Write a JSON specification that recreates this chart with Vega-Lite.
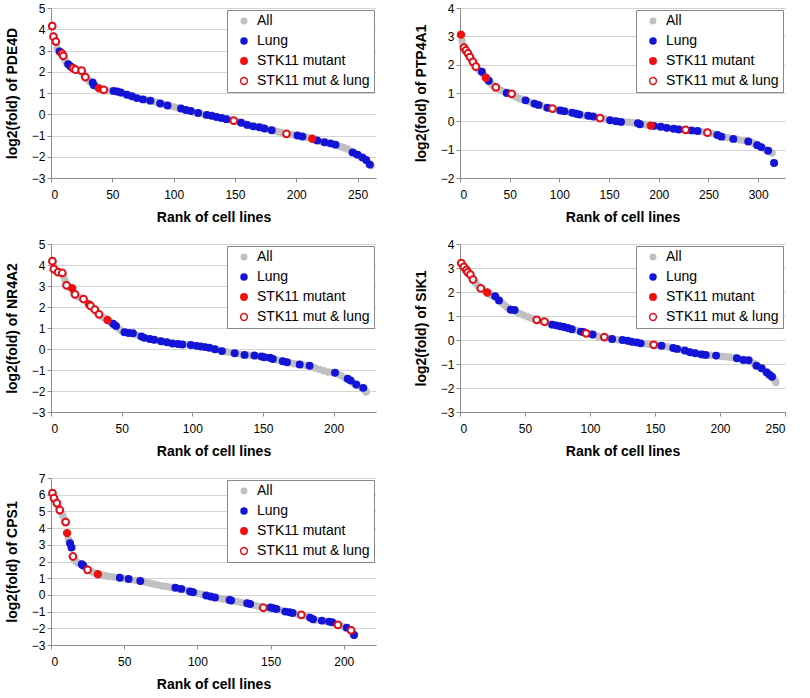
{
"$schema":"https://vega.github.io/schema/vega-lite/v6.json",
"padding":{"left":5,"top":2,"right":5,"bottom":5},
"background":"#ffffff",
"columns":2,
"bounds":"flush",
"align":"each",
"spacing":{"row":66,"column":84},
"resolve":{"scale":{"x":"independent","y":"independent","fill":"independent","stroke":"independent","size":"independent"},"legend":{"fill":"independent","stroke":"independent","size":"independent"}},
"datasets":{
"PDE4D":[
{"set":"All","rank":1,"fold":4.2},{"set":"All","rank":2,"fold":3.7},{"set":"All","rank":3,"fold":3.5},{"set":"All","rank":4,"fold":3.4},{"set":"All","rank":5,"fold":3.1},{"set":"All","rank":6,"fold":3.0},{"set":"All","rank":7,"fold":2.93},{"set":"All","rank":8,"fold":2.88},{"set":"All","rank":9,"fold":2.83},{"set":"All","rank":10,"fold":2.75},{"set":"All","rank":11,"fold":2.6},{"set":"All","rank":12,"fold":2.5},{"set":"All","rank":13,"fold":2.4},{"set":"All","rank":14,"fold":2.33},{"set":"All","rank":15,"fold":2.27},{"set":"All","rank":16,"fold":2.23},{"set":"All","rank":18,"fold":2.18},{"set":"All","rank":20,"fold":2.1},{"set":"All","rank":22,"fold":2.06},{"set":"All","rank":24,"fold":2.02},{"set":"All","rank":26,"fold":1.92},{"set":"All","rank":28,"fold":1.76},{"set":"All","rank":30,"fold":1.63},{"set":"All","rank":32,"fold":1.52},{"set":"All","rank":34,"fold":1.44},{"set":"All","rank":36,"fold":1.35},{"set":"All","rank":38,"fold":1.27},{"set":"All","rank":40,"fold":1.2},{"set":"All","rank":42,"fold":1.16},{"set":"All","rank":44,"fold":1.13},{"set":"All","rank":47,"fold":1.1},{"set":"All","rank":50,"fold":1.08},{"set":"All","rank":53,"fold":1.06},{"set":"All","rank":56,"fold":1.02},{"set":"All","rank":59,"fold":0.97},{"set":"All","rank":62,"fold":0.92},{"set":"All","rank":65,"fold":0.87},{"set":"All","rank":68,"fold":0.8},{"set":"All","rank":71,"fold":0.75},{"set":"All","rank":74,"fold":0.71},{"set":"All","rank":77,"fold":0.68},{"set":"All","rank":80,"fold":0.65},{"set":"All","rank":83,"fold":0.61},{"set":"All","rank":86,"fold":0.56},{"set":"All","rank":89,"fold":0.51},{"set":"All","rank":92,"fold":0.47},{"set":"All","rank":95,"fold":0.42},{"set":"All","rank":98,"fold":0.38},{"set":"All","rank":101,"fold":0.34},{"set":"All","rank":104,"fold":0.29},{"set":"All","rank":107,"fold":0.25},{"set":"All","rank":110,"fold":0.2},{"set":"All","rank":113,"fold":0.16},{"set":"All","rank":116,"fold":0.11},{"set":"All","rank":119,"fold":0.06},{"set":"All","rank":122,"fold":0.03},{"set":"All","rank":125,"fold":-0.02},{"set":"All","rank":128,"fold":-0.05},{"set":"All","rank":131,"fold":-0.08},{"set":"All","rank":134,"fold":-0.11},{"set":"All","rank":137,"fold":-0.15},{"set":"All","rank":140,"fold":-0.18},{"set":"All","rank":143,"fold":-0.21},{"set":"All","rank":146,"fold":-0.25},{"set":"All","rank":149,"fold":-0.3},{"set":"All","rank":152,"fold":-0.34},{"set":"All","rank":155,"fold":-0.38},{"set":"All","rank":158,"fold":-0.43},{"set":"All","rank":161,"fold":-0.5},{"set":"All","rank":164,"fold":-0.56},{"set":"All","rank":167,"fold":-0.59},{"set":"All","rank":170,"fold":-0.61},{"set":"All","rank":173,"fold":-0.65},{"set":"All","rank":176,"fold":-0.7},{"set":"All","rank":179,"fold":-0.74},{"set":"All","rank":182,"fold":-0.78},{"set":"All","rank":185,"fold":-0.82},{"set":"All","rank":188,"fold":-0.87},{"set":"All","rank":191,"fold":-0.92},{"set":"All","rank":194,"fold":-0.95},{"set":"All","rank":197,"fold":-0.97},{"set":"All","rank":200,"fold":-0.99},{"set":"All","rank":203,"fold":-1.03},{"set":"All","rank":206,"fold":-1.06},{"set":"All","rank":209,"fold":-1.09},{"set":"All","rank":212,"fold":-1.12},{"set":"All","rank":215,"fold":-1.2},{"set":"All","rank":218,"fold":-1.26},{"set":"All","rank":221,"fold":-1.3},{"set":"All","rank":224,"fold":-1.34},{"set":"All","rank":227,"fold":-1.38},{"set":"All","rank":230,"fold":-1.42},{"set":"All","rank":233,"fold":-1.47},{"set":"All","rank":236,"fold":-1.52},{"set":"All","rank":239,"fold":-1.58},{"set":"All","rank":242,"fold":-1.65},{"set":"All","rank":245,"fold":-1.76},{"set":"All","rank":248,"fold":-1.85},{"set":"All","rank":251,"fold":-1.95},{"set":"All","rank":254,"fold":-2.05},{"set":"All","rank":257,"fold":-2.18},{"set":"All","rank":259,"fold":-2.3},{"set":"All","rank":261,"fold":-2.42},
{"set":"Lung","rank":7,"fold":2.96},{"set":"Lung","rank":14,"fold":2.36},{"set":"Lung","rank":16,"fold":2.25},{"set":"Lung","rank":34,"fold":1.5},{"set":"Lung","rank":35,"fold":1.36},{"set":"Lung","rank":51,"fold":1.1},{"set":"Lung","rank":54,"fold":1.07},{"set":"Lung","rank":57,"fold":1.02},{"set":"Lung","rank":62,"fold":0.92},{"set":"Lung","rank":66,"fold":0.85},{"set":"Lung","rank":70,"fold":0.76},{"set":"Lung","rank":75,"fold":0.7},{"set":"Lung","rank":81,"fold":0.64},{"set":"Lung","rank":89,"fold":0.51},{"set":"Lung","rank":95,"fold":0.41},{"set":"Lung","rank":106,"fold":0.27},{"set":"Lung","rank":110,"fold":0.2},{"set":"Lung","rank":114,"fold":0.15},{"set":"Lung","rank":120,"fold":0.06},{"set":"Lung","rank":127,"fold":-0.03},{"set":"Lung","rank":131,"fold":-0.07},{"set":"Lung","rank":135,"fold":-0.13},{"set":"Lung","rank":139,"fold":-0.18},{"set":"Lung","rank":143,"fold":-0.23},{"set":"Lung","rank":155,"fold":-0.4},{"set":"Lung","rank":160,"fold":-0.5},{"set":"Lung","rank":165,"fold":-0.57},{"set":"Lung","rank":170,"fold":-0.61},{"set":"Lung","rank":174,"fold":-0.67},{"set":"Lung","rank":180,"fold":-0.75},{"set":"Lung","rank":201,"fold":-1.0},{"set":"Lung","rank":205,"fold":-1.05},{"set":"Lung","rank":217,"fold":-1.23},{"set":"Lung","rank":223,"fold":-1.32},{"set":"Lung","rank":228,"fold":-1.37},{"set":"Lung","rank":232,"fold":-1.43},{"set":"Lung","rank":246,"fold":-1.8},{"set":"Lung","rank":250,"fold":-1.9},{"set":"Lung","rank":254,"fold":-2.03},{"set":"Lung","rank":257,"fold":-2.15},{"set":"Lung","rank":260,"fold":-2.37},
{"set":"STK11 mutant","rank":39,"fold":1.22},{"set":"STK11 mutant","rank":213,"fold":-1.15},
{"set":"STK11 mut & lung","rank":1,"fold":4.15},{"set":"STK11 mut & lung","rank":2,"fold":3.65},{"set":"STK11 mut & lung","rank":4,"fold":3.42},{"set":"STK11 mut & lung","rank":9,"fold":2.85},{"set":"STK11 mut & lung","rank":10,"fold":2.75},{"set":"STK11 mut & lung","rank":18,"fold":2.17},{"set":"STK11 mut & lung","rank":20,"fold":2.1},{"set":"STK11 mut & lung","rank":25,"fold":2.05},{"set":"STK11 mut & lung","rank":28,"fold":1.75},{"set":"STK11 mut & lung","rank":43,"fold":1.15},{"set":"STK11 mut & lung","rank":149,"fold":-0.3},{"set":"STK11 mut & lung","rank":192,"fold":-0.92}
],
"PTP4A1":[
{"set":"All","rank":1,"fold":3.06},{"set":"All","rank":2,"fold":2.85},{"set":"All","rank":3,"fold":2.7},{"set":"All","rank":4,"fold":2.6},{"set":"All","rank":5,"fold":2.55},{"set":"All","rank":6,"fold":2.5},{"set":"All","rank":7,"fold":2.45},{"set":"All","rank":8,"fold":2.4},{"set":"All","rank":9,"fold":2.33},{"set":"All","rank":10,"fold":2.28},{"set":"All","rank":11,"fold":2.24},{"set":"All","rank":12,"fold":2.15},{"set":"All","rank":13,"fold":2.1},{"set":"All","rank":14,"fold":2.05},{"set":"All","rank":15,"fold":1.98},{"set":"All","rank":16,"fold":1.93},{"set":"All","rank":18,"fold":1.85},{"set":"All","rank":20,"fold":1.79},{"set":"All","rank":22,"fold":1.74},{"set":"All","rank":24,"fold":1.64},{"set":"All","rank":26,"fold":1.55},{"set":"All","rank":28,"fold":1.43},{"set":"All","rank":30,"fold":1.37},{"set":"All","rank":33,"fold":1.28},{"set":"All","rank":36,"fold":1.2},{"set":"All","rank":39,"fold":1.14},{"set":"All","rank":42,"fold":1.08},{"set":"All","rank":45,"fold":1.04},{"set":"All","rank":48,"fold":1.0},{"set":"All","rank":51,"fold":0.97},{"set":"All","rank":54,"fold":0.9},{"set":"All","rank":57,"fold":0.85},{"set":"All","rank":60,"fold":0.8},{"set":"All","rank":63,"fold":0.77},{"set":"All","rank":66,"fold":0.74},{"set":"All","rank":70,"fold":0.68},{"set":"All","rank":74,"fold":0.64},{"set":"All","rank":78,"fold":0.59},{"set":"All","rank":82,"fold":0.55},{"set":"All","rank":86,"fold":0.49},{"set":"All","rank":90,"fold":0.46},{"set":"All","rank":94,"fold":0.44},{"set":"All","rank":98,"fold":0.41},{"set":"All","rank":102,"fold":0.37},{"set":"All","rank":106,"fold":0.35},{"set":"All","rank":110,"fold":0.32},{"set":"All","rank":114,"fold":0.29},{"set":"All","rank":118,"fold":0.26},{"set":"All","rank":122,"fold":0.23},{"set":"All","rank":126,"fold":0.21},{"set":"All","rank":130,"fold":0.19},{"set":"All","rank":134,"fold":0.17},{"set":"All","rank":138,"fold":0.13},{"set":"All","rank":142,"fold":0.11},{"set":"All","rank":146,"fold":0.08},{"set":"All","rank":150,"fold":0.06},{"set":"All","rank":154,"fold":0.03},{"set":"All","rank":158,"fold":0.0},{"set":"All","rank":162,"fold":-0.01},{"set":"All","rank":166,"fold":-0.02},{"set":"All","rank":170,"fold":-0.03},{"set":"All","rank":174,"fold":-0.05},{"set":"All","rank":178,"fold":-0.06},{"set":"All","rank":182,"fold":-0.09},{"set":"All","rank":186,"fold":-0.12},{"set":"All","rank":190,"fold":-0.15},{"set":"All","rank":194,"fold":-0.17},{"set":"All","rank":198,"fold":-0.18},{"set":"All","rank":202,"fold":-0.19},{"set":"All","rank":206,"fold":-0.21},{"set":"All","rank":210,"fold":-0.24},{"set":"All","rank":214,"fold":-0.26},{"set":"All","rank":218,"fold":-0.27},{"set":"All","rank":222,"fold":-0.28},{"set":"All","rank":226,"fold":-0.3},{"set":"All","rank":230,"fold":-0.31},{"set":"All","rank":234,"fold":-0.32},{"set":"All","rank":238,"fold":-0.34},{"set":"All","rank":242,"fold":-0.36},{"set":"All","rank":246,"fold":-0.38},{"set":"All","rank":250,"fold":-0.4},{"set":"All","rank":254,"fold":-0.43},{"set":"All","rank":258,"fold":-0.47},{"set":"All","rank":262,"fold":-0.52},{"set":"All","rank":266,"fold":-0.56},{"set":"All","rank":270,"fold":-0.58},{"set":"All","rank":274,"fold":-0.61},{"set":"All","rank":278,"fold":-0.63},{"set":"All","rank":282,"fold":-0.66},{"set":"All","rank":286,"fold":-0.68},{"set":"All","rank":290,"fold":-0.7},{"set":"All","rank":293,"fold":-0.73},{"set":"All","rank":296,"fold":-0.77},{"set":"All","rank":299,"fold":-0.82},{"set":"All","rank":302,"fold":-0.88},{"set":"All","rank":305,"fold":-0.94},{"set":"All","rank":308,"fold":-1.0},{"set":"All","rank":311,"fold":-1.05},{"set":"All","rank":314,"fold":-1.12},{"set":"All","rank":316,"fold":-1.47},
{"set":"Lung","rank":22,"fold":1.75},{"set":"Lung","rank":29,"fold":1.43},{"set":"Lung","rank":47,"fold":1.0},{"set":"Lung","rank":66,"fold":0.74},{"set":"Lung","rank":75,"fold":0.62},{"set":"Lung","rank":79,"fold":0.58},{"set":"Lung","rank":88,"fold":0.48},{"set":"Lung","rank":101,"fold":0.38},{"set":"Lung","rank":105,"fold":0.36},{"set":"Lung","rank":113,"fold":0.3},{"set":"Lung","rank":117,"fold":0.27},{"set":"Lung","rank":120,"fold":0.24},{"set":"Lung","rank":129,"fold":0.2},{"set":"Lung","rank":134,"fold":0.17},{"set":"Lung","rank":151,"fold":0.04},{"set":"Lung","rank":157,"fold":0.0},{"set":"Lung","rank":162,"fold":-0.02},{"set":"Lung","rank":179,"fold":-0.07},{"set":"Lung","rank":181,"fold":-0.1},{"set":"Lung","rank":195,"fold":-0.16},{"set":"Lung","rank":202,"fold":-0.19},{"set":"Lung","rank":208,"fold":-0.23},{"set":"Lung","rank":215,"fold":-0.26},{"set":"Lung","rank":220,"fold":-0.29},{"set":"Lung","rank":233,"fold":-0.32},{"set":"Lung","rank":239,"fold":-0.34},{"set":"Lung","rank":259,"fold":-0.48},{"set":"Lung","rank":263,"fold":-0.54},{"set":"Lung","rank":275,"fold":-0.62},{"set":"Lung","rank":290,"fold":-0.71},{"set":"Lung","rank":299,"fold":-0.84},{"set":"Lung","rank":303,"fold":-0.91},{"set":"Lung","rank":310,"fold":-1.04},{"set":"Lung","rank":316,"fold":-1.47},
{"set":"STK11 mutant","rank":1,"fold":3.06},{"set":"STK11 mutant","rank":26,"fold":1.54},{"set":"STK11 mutant","rank":192,"fold":-0.15},
{"set":"STK11 mut & lung","rank":4,"fold":2.6},{"set":"STK11 mut & lung","rank":6,"fold":2.5},{"set":"STK11 mut & lung","rank":8,"fold":2.4},{"set":"STK11 mut & lung","rank":10,"fold":2.27},{"set":"STK11 mut & lung","rank":13,"fold":2.1},{"set":"STK11 mut & lung","rank":16,"fold":1.93},{"set":"STK11 mut & lung","rank":36,"fold":1.2},{"set":"STK11 mut & lung","rank":52,"fold":0.97},{"set":"STK11 mut & lung","rank":93,"fold":0.45},{"set":"STK11 mut & lung","rank":141,"fold":0.11},{"set":"STK11 mut & lung","rank":227,"fold":-0.3},{"set":"STK11 mut & lung","rank":249,"fold":-0.4}
],
"NR4A2":[
{"set":"All","rank":1,"fold":4.18},{"set":"All","rank":2,"fold":3.95},{"set":"All","rank":3,"fold":3.78},{"set":"All","rank":4,"fold":3.7},{"set":"All","rank":5,"fold":3.66},{"set":"All","rank":6,"fold":3.64},{"set":"All","rank":7,"fold":3.62},{"set":"All","rank":8,"fold":3.6},{"set":"All","rank":9,"fold":3.45},{"set":"All","rank":10,"fold":3.25},{"set":"All","rank":11,"fold":3.05},{"set":"All","rank":12,"fold":2.98},{"set":"All","rank":13,"fold":2.94},{"set":"All","rank":14,"fold":2.9},{"set":"All","rank":15,"fold":2.85},{"set":"All","rank":16,"fold":2.7},{"set":"All","rank":17,"fold":2.6},{"set":"All","rank":18,"fold":2.54},{"set":"All","rank":20,"fold":2.46},{"set":"All","rank":22,"fold":2.4},{"set":"All","rank":24,"fold":2.32},{"set":"All","rank":26,"fold":2.18},{"set":"All","rank":28,"fold":2.05},{"set":"All","rank":30,"fold":1.92},{"set":"All","rank":32,"fold":1.78},{"set":"All","rank":34,"fold":1.65},{"set":"All","rank":36,"fold":1.55},{"set":"All","rank":38,"fold":1.47},{"set":"All","rank":40,"fold":1.38},{"set":"All","rank":42,"fold":1.27},{"set":"All","rank":44,"fold":1.18},{"set":"All","rank":46,"fold":1.08},{"set":"All","rank":48,"fold":0.96},{"set":"All","rank":50,"fold":0.87},{"set":"All","rank":52,"fold":0.8},{"set":"All","rank":55,"fold":0.76},{"set":"All","rank":58,"fold":0.73},{"set":"All","rank":61,"fold":0.66},{"set":"All","rank":64,"fold":0.59},{"set":"All","rank":67,"fold":0.52},{"set":"All","rank":70,"fold":0.47},{"set":"All","rank":73,"fold":0.44},{"set":"All","rank":76,"fold":0.4},{"set":"All","rank":79,"fold":0.36},{"set":"All","rank":82,"fold":0.32},{"set":"All","rank":85,"fold":0.27},{"set":"All","rank":88,"fold":0.25},{"set":"All","rank":91,"fold":0.23},{"set":"All","rank":94,"fold":0.21},{"set":"All","rank":97,"fold":0.2},{"set":"All","rank":100,"fold":0.18},{"set":"All","rank":103,"fold":0.15},{"set":"All","rank":106,"fold":0.12},{"set":"All","rank":109,"fold":0.09},{"set":"All","rank":112,"fold":0.06},{"set":"All","rank":115,"fold":0.01},{"set":"All","rank":118,"fold":-0.04},{"set":"All","rank":121,"fold":-0.09},{"set":"All","rank":124,"fold":-0.13},{"set":"All","rank":127,"fold":-0.17},{"set":"All","rank":130,"fold":-0.2},{"set":"All","rank":133,"fold":-0.24},{"set":"All","rank":136,"fold":-0.27},{"set":"All","rank":139,"fold":-0.29},{"set":"All","rank":142,"fold":-0.31},{"set":"All","rank":145,"fold":-0.33},{"set":"All","rank":148,"fold":-0.36},{"set":"All","rank":151,"fold":-0.39},{"set":"All","rank":154,"fold":-0.42},{"set":"All","rank":157,"fold":-0.48},{"set":"All","rank":160,"fold":-0.52},{"set":"All","rank":163,"fold":-0.56},{"set":"All","rank":166,"fold":-0.61},{"set":"All","rank":169,"fold":-0.66},{"set":"All","rank":172,"fold":-0.7},{"set":"All","rank":175,"fold":-0.73},{"set":"All","rank":178,"fold":-0.76},{"set":"All","rank":181,"fold":-0.78},{"set":"All","rank":184,"fold":-0.82},{"set":"All","rank":187,"fold":-0.9},{"set":"All","rank":190,"fold":-0.97},{"set":"All","rank":193,"fold":-1.04},{"set":"All","rank":196,"fold":-1.09},{"set":"All","rank":199,"fold":-1.12},{"set":"All","rank":202,"fold":-1.16},{"set":"All","rank":205,"fold":-1.26},{"set":"All","rank":208,"fold":-1.38},{"set":"All","rank":211,"fold":-1.47},{"set":"All","rank":214,"fold":-1.62},{"set":"All","rank":217,"fold":-1.75},{"set":"All","rank":220,"fold":-1.86},{"set":"All","rank":222,"fold":-1.95},{"set":"All","rank":223,"fold":-2.05},
{"set":"Lung","rank":44,"fold":1.2},{"set":"Lung","rank":46,"fold":1.1},{"set":"Lung","rank":52,"fold":0.8},{"set":"Lung","rank":55,"fold":0.76},{"set":"Lung","rank":58,"fold":0.75},{"set":"Lung","rank":64,"fold":0.6},{"set":"Lung","rank":66,"fold":0.53},{"set":"Lung","rank":70,"fold":0.48},{"set":"Lung","rank":73,"fold":0.44},{"set":"Lung","rank":78,"fold":0.37},{"set":"Lung","rank":82,"fold":0.32},{"set":"Lung","rank":86,"fold":0.26},{"set":"Lung","rank":90,"fold":0.24},{"set":"Lung","rank":93,"fold":0.21},{"set":"Lung","rank":99,"fold":0.19},{"set":"Lung","rank":103,"fold":0.15},{"set":"Lung","rank":106,"fold":0.12},{"set":"Lung","rank":109,"fold":0.09},{"set":"Lung","rank":112,"fold":0.06},{"set":"Lung","rank":116,"fold":-0.01},{"set":"Lung","rank":121,"fold":-0.1},{"set":"Lung","rank":130,"fold":-0.2},{"set":"Lung","rank":137,"fold":-0.28},{"set":"Lung","rank":144,"fold":-0.31},{"set":"Lung","rank":149,"fold":-0.36},{"set":"Lung","rank":151,"fold":-0.39},{"set":"Lung","rank":155,"fold":-0.42},{"set":"Lung","rank":157,"fold":-0.48},{"set":"Lung","rank":164,"fold":-0.58},{"set":"Lung","rank":167,"fold":-0.63},{"set":"Lung","rank":176,"fold":-0.74},{"set":"Lung","rank":183,"fold":-0.8},{"set":"Lung","rank":201,"fold":-1.13},{"set":"Lung","rank":210,"fold":-1.42},{"set":"Lung","rank":212,"fold":-1.5},{"set":"Lung","rank":216,"fold":-1.69},{"set":"Lung","rank":221,"fold":-1.85},
{"set":"STK11 mutant","rank":15,"fold":2.9},{"set":"STK11 mutant","rank":27,"fold":2.12},{"set":"STK11 mutant","rank":40,"fold":1.38},
{"set":"STK11 mut & lung","rank":1,"fold":4.18},{"set":"STK11 mut & lung","rank":2,"fold":3.8},{"set":"STK11 mut & lung","rank":5,"fold":3.66},{"set":"STK11 mut & lung","rank":8,"fold":3.62},{"set":"STK11 mut & lung","rank":11,"fold":3.03},{"set":"STK11 mut & lung","rank":17,"fold":2.6},{"set":"STK11 mut & lung","rank":23,"fold":2.38},{"set":"STK11 mut & lung","rank":28,"fold":2.05},{"set":"STK11 mut & lung","rank":31,"fold":1.88},{"set":"STK11 mut & lung","rank":34,"fold":1.65}
],
"SIK1":[
{"set":"All","rank":1,"fold":3.2},{"set":"All","rank":2,"fold":3.1},{"set":"All","rank":3,"fold":3.0},{"set":"All","rank":4,"fold":2.9},{"set":"All","rank":6,"fold":2.8},{"set":"All","rank":8,"fold":2.68},{"set":"All","rank":10,"fold":2.5},{"set":"All","rank":12,"fold":2.38},{"set":"All","rank":14,"fold":2.25},{"set":"All","rank":16,"fold":2.15},{"set":"All","rank":18,"fold":2.08},{"set":"All","rank":20,"fold":2.0},{"set":"All","rank":22,"fold":1.93},{"set":"All","rank":24,"fold":1.88},{"set":"All","rank":26,"fold":1.83},{"set":"All","rank":28,"fold":1.76},{"set":"All","rank":30,"fold":1.65},{"set":"All","rank":32,"fold":1.55},{"set":"All","rank":34,"fold":1.47},{"set":"All","rank":36,"fold":1.38},{"set":"All","rank":38,"fold":1.3},{"set":"All","rank":40,"fold":1.25},{"set":"All","rank":43,"fold":1.18},{"set":"All","rank":46,"fold":1.1},{"set":"All","rank":49,"fold":1.03},{"set":"All","rank":52,"fold":0.97},{"set":"All","rank":55,"fold":0.91},{"set":"All","rank":58,"fold":0.86},{"set":"All","rank":61,"fold":0.81},{"set":"All","rank":64,"fold":0.77},{"set":"All","rank":67,"fold":0.72},{"set":"All","rank":70,"fold":0.66},{"set":"All","rank":73,"fold":0.62},{"set":"All","rank":76,"fold":0.58},{"set":"All","rank":79,"fold":0.55},{"set":"All","rank":82,"fold":0.5},{"set":"All","rank":85,"fold":0.46},{"set":"All","rank":88,"fold":0.42},{"set":"All","rank":91,"fold":0.38},{"set":"All","rank":94,"fold":0.34},{"set":"All","rank":97,"fold":0.29},{"set":"All","rank":100,"fold":0.25},{"set":"All","rank":103,"fold":0.21},{"set":"All","rank":106,"fold":0.16},{"set":"All","rank":109,"fold":0.12},{"set":"All","rank":112,"fold":0.09},{"set":"All","rank":115,"fold":0.06},{"set":"All","rank":118,"fold":0.03},{"set":"All","rank":121,"fold":0.01},{"set":"All","rank":124,"fold":0.0},{"set":"All","rank":127,"fold":-0.02},{"set":"All","rank":130,"fold":-0.05},{"set":"All","rank":133,"fold":-0.08},{"set":"All","rank":136,"fold":-0.1},{"set":"All","rank":139,"fold":-0.13},{"set":"All","rank":142,"fold":-0.16},{"set":"All","rank":145,"fold":-0.18},{"set":"All","rank":148,"fold":-0.2},{"set":"All","rank":151,"fold":-0.22},{"set":"All","rank":154,"fold":-0.24},{"set":"All","rank":157,"fold":-0.26},{"set":"All","rank":160,"fold":-0.29},{"set":"All","rank":163,"fold":-0.32},{"set":"All","rank":166,"fold":-0.36},{"set":"All","rank":169,"fold":-0.4},{"set":"All","rank":172,"fold":-0.43},{"set":"All","rank":175,"fold":-0.48},{"set":"All","rank":178,"fold":-0.52},{"set":"All","rank":181,"fold":-0.55},{"set":"All","rank":184,"fold":-0.58},{"set":"All","rank":187,"fold":-0.61},{"set":"All","rank":190,"fold":-0.63},{"set":"All","rank":193,"fold":-0.64},{"set":"All","rank":196,"fold":-0.65},{"set":"All","rank":199,"fold":-0.67},{"set":"All","rank":202,"fold":-0.69},{"set":"All","rank":205,"fold":-0.7},{"set":"All","rank":208,"fold":-0.72},{"set":"All","rank":211,"fold":-0.74},{"set":"All","rank":214,"fold":-0.77},{"set":"All","rank":217,"fold":-0.81},{"set":"All","rank":220,"fold":-0.83},{"set":"All","rank":223,"fold":-0.86},{"set":"All","rank":226,"fold":-0.97},{"set":"All","rank":229,"fold":-1.08},{"set":"All","rank":232,"fold":-1.18},{"set":"All","rank":235,"fold":-1.3},{"set":"All","rank":238,"fold":-1.44},{"set":"All","rank":240,"fold":-1.53},{"set":"All","rank":242,"fold":-1.65},{"set":"All","rank":243,"fold":-1.77},
{"set":"Lung","rank":27,"fold":1.82},{"set":"Lung","rank":30,"fold":1.65},{"set":"Lung","rank":39,"fold":1.26},{"set":"Lung","rank":42,"fold":1.25},{"set":"Lung","rank":71,"fold":0.64},{"set":"Lung","rank":74,"fold":0.61},{"set":"Lung","rank":77,"fold":0.57},{"set":"Lung","rank":80,"fold":0.54},{"set":"Lung","rank":83,"fold":0.5},{"set":"Lung","rank":86,"fold":0.45},{"set":"Lung","rank":93,"fold":0.35},{"set":"Lung","rank":95,"fold":0.33},{"set":"Lung","rank":102,"fold":0.23},{"set":"Lung","rank":117,"fold":0.04},{"set":"Lung","rank":125,"fold":0.0},{"set":"Lung","rank":129,"fold":-0.03},{"set":"Lung","rank":132,"fold":-0.07},{"set":"Lung","rank":136,"fold":-0.1},{"set":"Lung","rank":139,"fold":-0.14},{"set":"Lung","rank":155,"fold":-0.24},{"set":"Lung","rank":164,"fold":-0.33},{"set":"Lung","rank":167,"fold":-0.37},{"set":"Lung","rank":173,"fold":-0.44},{"set":"Lung","rank":177,"fold":-0.51},{"set":"Lung","rank":181,"fold":-0.55},{"set":"Lung","rank":186,"fold":-0.6},{"set":"Lung","rank":189,"fold":-0.62},{"set":"Lung","rank":197,"fold":-0.65},{"set":"Lung","rank":213,"fold":-0.76},{"set":"Lung","rank":218,"fold":-0.83},{"set":"Lung","rank":222,"fold":-0.84},{"set":"Lung","rank":228,"fold":-1.07},{"set":"Lung","rank":232,"fold":-1.18},{"set":"Lung","rank":236,"fold":-1.35},{"set":"Lung","rank":238,"fold":-1.45},{"set":"Lung","rank":240,"fold":-1.53},
{"set":"STK11 mutant","rank":21,"fold":1.98},
{"set":"STK11 mut & lung","rank":1,"fold":3.2},{"set":"STK11 mut & lung","rank":3,"fold":3.05},{"set":"STK11 mut & lung","rank":5,"fold":2.92},{"set":"STK11 mut & lung","rank":6,"fold":2.82},{"set":"STK11 mut & lung","rank":8,"fold":2.72},{"set":"STK11 mut & lung","rank":10,"fold":2.52},{"set":"STK11 mut & lung","rank":16,"fold":2.15},{"set":"STK11 mut & lung","rank":59,"fold":0.84},{"set":"STK11 mut & lung","rank":65,"fold":0.76},{"set":"STK11 mut & lung","rank":97,"fold":0.28},{"set":"STK11 mut & lung","rank":111,"fold":0.12},{"set":"STK11 mut & lung","rank":149,"fold":-0.2}
],
"CPS1":[
{"set":"All","rank":1,"fold":6.1},{"set":"All","rank":2,"fold":5.85},{"set":"All","rank":3,"fold":5.65},{"set":"All","rank":4,"fold":5.5},{"set":"All","rank":5,"fold":5.3},{"set":"All","rank":6,"fold":5.08},{"set":"All","rank":7,"fold":4.95},{"set":"All","rank":8,"fold":4.75},{"set":"All","rank":9,"fold":4.55},{"set":"All","rank":10,"fold":4.36},{"set":"All","rank":11,"fold":3.7},{"set":"All","rank":12,"fold":3.3},{"set":"All","rank":13,"fold":3.1},{"set":"All","rank":14,"fold":2.84},{"set":"All","rank":15,"fold":2.3},{"set":"All","rank":16,"fold":2.1},{"set":"All","rank":17,"fold":2.0},{"set":"All","rank":18,"fold":1.92},{"set":"All","rank":20,"fold":1.86},{"set":"All","rank":22,"fold":1.76},{"set":"All","rank":24,"fold":1.6},{"set":"All","rank":26,"fold":1.48},{"set":"All","rank":28,"fold":1.38},{"set":"All","rank":30,"fold":1.3},{"set":"All","rank":32,"fold":1.24},{"set":"All","rank":34,"fold":1.2},{"set":"All","rank":36,"fold":1.16},{"set":"All","rank":38,"fold":1.13},{"set":"All","rank":40,"fold":1.1},{"set":"All","rank":43,"fold":1.07},{"set":"All","rank":46,"fold":1.04},{"set":"All","rank":49,"fold":0.99},{"set":"All","rank":52,"fold":0.95},{"set":"All","rank":55,"fold":0.9},{"set":"All","rank":58,"fold":0.87},{"set":"All","rank":61,"fold":0.83},{"set":"All","rank":64,"fold":0.77},{"set":"All","rank":67,"fold":0.71},{"set":"All","rank":70,"fold":0.65},{"set":"All","rank":73,"fold":0.59},{"set":"All","rank":76,"fold":0.54},{"set":"All","rank":79,"fold":0.5},{"set":"All","rank":82,"fold":0.46},{"set":"All","rank":85,"fold":0.43},{"set":"All","rank":88,"fold":0.37},{"set":"All","rank":91,"fold":0.31},{"set":"All","rank":94,"fold":0.24},{"set":"All","rank":97,"fold":0.16},{"set":"All","rank":100,"fold":0.1},{"set":"All","rank":103,"fold":0.04},{"set":"All","rank":106,"fold":-0.03},{"set":"All","rank":109,"fold":-0.1},{"set":"All","rank":112,"fold":-0.16},{"set":"All","rank":115,"fold":-0.22},{"set":"All","rank":118,"fold":-0.26},{"set":"All","rank":121,"fold":-0.3},{"set":"All","rank":124,"fold":-0.35},{"set":"All","rank":127,"fold":-0.4},{"set":"All","rank":130,"fold":-0.45},{"set":"All","rank":133,"fold":-0.5},{"set":"All","rank":136,"fold":-0.55},{"set":"All","rank":139,"fold":-0.62},{"set":"All","rank":142,"fold":-0.7},{"set":"All","rank":145,"fold":-0.77},{"set":"All","rank":148,"fold":-0.77},{"set":"All","rank":151,"fold":-0.79},{"set":"All","rank":154,"fold":-0.84},{"set":"All","rank":157,"fold":-0.92},{"set":"All","rank":160,"fold":-1.0},{"set":"All","rank":163,"fold":-1.04},{"set":"All","rank":166,"fold":-1.1},{"set":"All","rank":169,"fold":-1.17},{"set":"All","rank":172,"fold":-1.23},{"set":"All","rank":175,"fold":-1.3},{"set":"All","rank":178,"fold":-1.42},{"set":"All","rank":181,"fold":-1.5},{"set":"All","rank":184,"fold":-1.54},{"set":"All","rank":187,"fold":-1.58},{"set":"All","rank":190,"fold":-1.61},{"set":"All","rank":193,"fold":-1.66},{"set":"All","rank":196,"fold":-1.78},{"set":"All","rank":199,"fold":-1.88},{"set":"All","rank":202,"fold":-1.96},{"set":"All","rank":205,"fold":-2.12},{"set":"All","rank":207,"fold":-2.4},
{"set":"Lung","rank":13,"fold":3.1},{"set":"Lung","rank":14,"fold":2.84},{"set":"Lung","rank":21,"fold":1.84},{"set":"Lung","rank":22,"fold":1.76},{"set":"Lung","rank":47,"fold":1.03},{"set":"Lung","rank":53,"fold":0.95},{"set":"Lung","rank":61,"fold":0.83},{"set":"Lung","rank":85,"fold":0.43},{"set":"Lung","rank":89,"fold":0.36},{"set":"Lung","rank":95,"fold":0.2},{"set":"Lung","rank":97,"fold":0.16},{"set":"Lung","rank":106,"fold":-0.04},{"set":"Lung","rank":109,"fold":-0.1},{"set":"Lung","rank":112,"fold":-0.16},{"set":"Lung","rank":122,"fold":-0.3},{"set":"Lung","rank":123,"fold":-0.34},{"set":"Lung","rank":134,"fold":-0.5},{"set":"Lung","rank":136,"fold":-0.54},{"set":"Lung","rank":150,"fold":-0.76},{"set":"Lung","rank":152,"fold":-0.8},{"set":"Lung","rank":154,"fold":-0.84},{"set":"Lung","rank":160,"fold":-1.0},{"set":"Lung","rank":163,"fold":-1.04},{"set":"Lung","rank":165,"fold":-1.08},{"set":"Lung","rank":177,"fold":-1.36},{"set":"Lung","rank":179,"fold":-1.46},{"set":"Lung","rank":185,"fold":-1.54},{"set":"Lung","rank":190,"fold":-1.6},{"set":"Lung","rank":192,"fold":-1.64},{"set":"Lung","rank":202,"fold":-1.96},{"set":"Lung","rank":207,"fold":-2.4},
{"set":"STK11 mutant","rank":11,"fold":3.7},{"set":"STK11 mutant","rank":32,"fold":1.24},
{"set":"STK11 mut & lung","rank":1,"fold":6.1},{"set":"STK11 mut & lung","rank":2,"fold":5.8},{"set":"STK11 mut & lung","rank":4,"fold":5.5},{"set":"STK11 mut & lung","rank":6,"fold":5.08},{"set":"STK11 mut & lung","rank":10,"fold":4.36},{"set":"STK11 mut & lung","rank":15,"fold":2.3},{"set":"STK11 mut & lung","rank":25,"fold":1.5},{"set":"STK11 mut & lung","rank":145,"fold":-0.77},{"set":"STK11 mut & lung","rank":171,"fold":-1.2},{"set":"STK11 mut & lung","rank":196,"fold":-1.8},{"set":"STK11 mut & lung","rank":205,"fold":-2.12}
]
},
"concat":[
{"width":325,"height":170,"data":{"name":"PDE4D"},"mark":{"type":"circle","opacity":1,"strokeWidth":2},
"encoding":{
"x":{"field":"rank","type":"quantitative","scale":{"domain":[0,265],"nice":false},"axis":{"values":[0,50,100,150,200,250],"title":"Rank of cell lines"}},
"y":{"field":"fold","type":"quantitative","scale":{"domain":[-3,5],"nice":false},"axis":{"values":[-3,-2,-1,0,1,2,3,4,5],"title":"log2(fold) of PDE4D"}},
"fill":{"field":"set","type":"nominal","scale":{"domain":["All","Lung","STK11 mutant","STK11 mut & lung"],"range":["#c0c0c0","#1414d8","#f01010","#ffffff"]},"legend":{"title":null}},
"stroke":{"field":"set","type":"nominal","scale":{"domain":["All","Lung","STK11 mutant","STK11 mut & lung"],"range":["#c0c0c0","#1414d8","#f01010","#e0101a"]},"legend":{"title":null}},
"size":{"field":"set","type":"nominal","scale":{"domain":["All","Lung","STK11 mutant","STK11 mut & lung"],"range":[30,46,54,80]},"legend":{"title":null}}}},
{"width":325,"height":170,"data":{"name":"PTP4A1"},"mark":{"type":"circle","opacity":1,"strokeWidth":2},
"encoding":{
"x":{"field":"rank","type":"quantitative","scale":{"domain":[0,327],"nice":false},"axis":{"values":[0,50,100,150,200,250,300],"title":"Rank of cell lines"}},
"y":{"field":"fold","type":"quantitative","scale":{"domain":[-2,4],"nice":false},"axis":{"values":[-2,-1,0,1,2,3,4],"title":"log2(fold) of PTP4A1"}},
"fill":{"field":"set","type":"nominal","scale":{"domain":["All","Lung","STK11 mutant","STK11 mut & lung"],"range":["#c0c0c0","#1414d8","#f01010","#ffffff"]},"legend":{"title":null}},
"stroke":{"field":"set","type":"nominal","scale":{"domain":["All","Lung","STK11 mutant","STK11 mut & lung"],"range":["#c0c0c0","#1414d8","#f01010","#e0101a"]},"legend":{"title":null}},
"size":{"field":"set","type":"nominal","scale":{"domain":["All","Lung","STK11 mutant","STK11 mut & lung"],"range":[30,46,54,80]},"legend":{"title":null}}}},
{"width":325,"height":168,"data":{"name":"NR4A2"},"mark":{"type":"circle","opacity":1,"strokeWidth":2},
"encoding":{
"x":{"field":"rank","type":"quantitative","scale":{"domain":[0,230],"nice":false},"axis":{"values":[0,50,100,150,200],"title":"Rank of cell lines"}},
"y":{"field":"fold","type":"quantitative","scale":{"domain":[-3,5],"nice":false},"axis":{"values":[-3,-2,-1,0,1,2,3,4,5],"title":"log2(fold) of NR4A2"}},
"fill":{"field":"set","type":"nominal","scale":{"domain":["All","Lung","STK11 mutant","STK11 mut & lung"],"range":["#c0c0c0","#1414d8","#f01010","#ffffff"]},"legend":{"title":null}},
"stroke":{"field":"set","type":"nominal","scale":{"domain":["All","Lung","STK11 mutant","STK11 mut & lung"],"range":["#c0c0c0","#1414d8","#f01010","#e0101a"]},"legend":{"title":null}},
"size":{"field":"set","type":"nominal","scale":{"domain":["All","Lung","STK11 mutant","STK11 mut & lung"],"range":[30,46,54,80]},"legend":{"title":null}}}},
{"width":325,"height":168,"data":{"name":"SIK1"},"mark":{"type":"circle","opacity":1,"strokeWidth":2},
"encoding":{
"x":{"field":"rank","type":"quantitative","scale":{"domain":[0,250],"nice":false},"axis":{"values":[0,50,100,150,200,250],"title":"Rank of cell lines"}},
"y":{"field":"fold","type":"quantitative","scale":{"domain":[-3,4],"nice":false},"axis":{"values":[-3,-2,-1,0,1,2,3,4],"title":"log2(fold) of SIK1"}},
"fill":{"field":"set","type":"nominal","scale":{"domain":["All","Lung","STK11 mutant","STK11 mut & lung"],"range":["#c0c0c0","#1414d8","#f01010","#ffffff"]},"legend":{"title":null}},
"stroke":{"field":"set","type":"nominal","scale":{"domain":["All","Lung","STK11 mutant","STK11 mut & lung"],"range":["#c0c0c0","#1414d8","#f01010","#e0101a"]},"legend":{"title":null}},
"size":{"field":"set","type":"nominal","scale":{"domain":["All","Lung","STK11 mutant","STK11 mut & lung"],"range":[30,46,54,80]},"legend":{"title":null}}}},
{"width":325,"height":167,"data":{"name":"CPS1"},"mark":{"type":"circle","opacity":1,"strokeWidth":2},
"encoding":{
"x":{"field":"rank","type":"quantitative","scale":{"domain":[0,222],"nice":false},"axis":{"values":[0,50,100,150,200],"title":"Rank of cell lines"}},
"y":{"field":"fold","type":"quantitative","scale":{"domain":[-3,7],"nice":false},"axis":{"values":[-3,-2,-1,0,1,2,3,4,5,6,7],"title":"log2(fold) of CPS1"}},
"fill":{"field":"set","type":"nominal","scale":{"domain":["All","Lung","STK11 mutant","STK11 mut & lung"],"range":["#c0c0c0","#1414d8","#f01010","#ffffff"]},"legend":{"title":null}},
"stroke":{"field":"set","type":"nominal","scale":{"domain":["All","Lung","STK11 mutant","STK11 mut & lung"],"range":["#c0c0c0","#1414d8","#f01010","#e0101a"]},"legend":{"title":null}},
"size":{"field":"set","type":"nominal","scale":{"domain":["All","Lung","STK11 mutant","STK11 mut & lung"],"range":[30,46,54,80]},"legend":{"title":null}}}}
],
"config":{
"view":{"stroke":null},
"font":"Liberation Sans",
"axis":{"labelFont":"Liberation Sans","labelFontSize":12,"labelColor":"#000000","titleFont":"Liberation Sans","titleFontSize":14,"titleFontWeight":"bold","titleColor":"#000000","domainColor":"#8c8c8c","tickColor":"#8c8c8c","tickSize":4,"gridColor":"#d4d4d4","labelPadding":2},
"axisX":{"grid":false,"labelPadding":7,"titlePadding":10},
"axisY":{"grid":true,"titlePadding":12},
"legend":{"orient":"top-right","offset":2,"padding":4,"strokeColor":"#888888","fillColor":"#ffffff","labelFont":"Liberation Sans","labelFontSize":14,"labelColor":"#000000","rowPadding":6,"symbolOffset":6,"labelOffset":6,"symbolStrokeWidth":1.5}
}
}
